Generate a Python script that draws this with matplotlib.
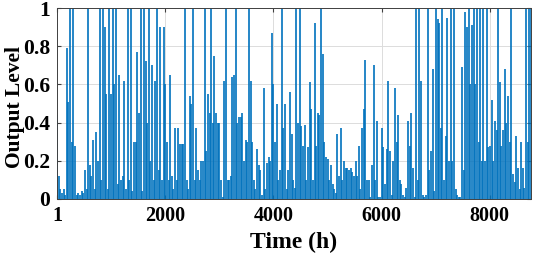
import numpy as np
import matplotlib
matplotlib.use("Agg")
import matplotlib.pyplot as plt

# output level, left to right (8 chunks of ~1100 h)
lev_a = [0.44, 0.12, 0.05, 0.03, 0.05, 0.02, 0.79, 0.51, 1.0, 0.3, 1.0, 0.28, 0.02, 0.03,
         0.02, 0.04, 0.03, 0.15, 0.05, 1.0, 0.18, 0.12, 0.31, 0.05, 0.35, 0.2, 1.0, 0.1,
         1.0, 0.9, 0.55, 0.05, 1.0, 0.55, 1.0, 0.6, 1.0, 0.08, 0.65, 0.1]
lev_b = [0.12, 0.62, 0.05, 1.0, 0.1, 1.0, 0.04, 0.3, 0.3, 0.77, 0.45, 1.0, 0.04, 1.0,
         0.72, 0.4, 1.0, 0.2, 0.7, 0.1, 0.62, 1.0, 0.15, 0.9, 0.1, 0.9, 0.6, 0.3, 0.1,
         0.65, 0.12, 0.05, 0.37, 0.1, 0.37, 0.29, 0.29]
lev_c = [0.29, 1.0, 0.1, 0.05, 0.54, 0.5, 1.0, 0.1, 0.37, 0.15, 0.1, 0.2, 0.2, 1.0,
         0.25, 0.55, 0.45, 1.0, 0.4, 0.75, 0.45, 0.4, 0.4, 0.1, 0.01, 0.62, 1.0, 0.1,
         0.1, 0.12, 0.64, 0.65, 1.0, 0.4, 0.43]
lev_d = [0.43, 0.45, 0.2, 0.31, 0.3, 1.0, 0.62, 0.3, 0.1, 0.05, 0.26, 0.18, 0.15, 0.02,
         0.58, 0.05, 0.19, 0.22, 0.2, 0.87, 0.6, 0.3, 0.5, 0.1, 0.15, 1.0, 0.37, 0.5,
         0.05, 0.15, 0.56, 0.34, 0.1, 0.06, 1.0, 0.4]
lev_e = [1.0, 0.38, 0.28, 0.39, 0.1, 0.27, 0.61, 0.47, 0.1, 0.92, 0.28, 0.45, 0.44, 1.0,
         0.76, 0.3, 0.22, 0.21, 0.1, 0.18, 0.08, 0.05, 0.03, 0.34, 0.12, 0.37, 0.1, 0.2,
         0.16, 0.16, 0.15, 0.16, 0.14, 0.12, 0.2]
lev_f = [0.12, 0.28, 0.05, 0.37, 0.47, 0.73, 0.1, 0.1, 0.01, 0.18, 0.7, 0.1, 0.41, 0.01,
         0.01, 0.37, 0.27, 0.08, 0.26, 0.62, 0.25, 0.02, 0.2, 0.58, 0.3, 0.44, 0.1, 0.08,
         0.02, 0.01, 0.06, 0.41, 0.28, 0.45]
lev_g = [0.16, 0.01, 1.0, 0.1, 1.0, 0.62, 0.02, 0.01, 0.02, 1.0, 0.15, 0.25, 0.68, 0.04,
         1.0, 0.94, 0.92, 0.37, 1.0, 0.1, 0.33, 0.95, 0.2, 1.0, 0.2, 1.0, 0.05, 0.02,
         0.01, 0.01, 0.69, 0.15, 0.98, 0.9, 1.0, 0.6]
lev_h = [0.91, 1.0, 0.6, 1.0, 0.3, 1.0, 0.2, 1.0, 0.2, 1.0, 0.27, 0.28, 0.52, 0.2,
         0.41, 0.36, 1.0, 0.61, 0.28, 0.36, 0.68, 0.4, 0.54, 0.3, 1.0, 0.13, 0.09, 0.33,
         0.16, 0.05, 0.3, 0.16, 0.06, 1.0, 0.3, 1.0, 1.0]

levels = lev_a + lev_b + lev_c + lev_d + lev_e + lev_f + lev_g + lev_h
hours = np.linspace(1, 8760, len(levels))

x_ticks = [1, 2000, 4000, 6000, 8000]
y_ticks = [0, 0.2, 0.4, 0.6, 0.8, 1]
y_labels = ["0", "0.2", "0.4", "0.6", "0.8", "1"]

plt.rcParams['font.family'] = 'Liberation Serif'
plt.rcParams['font.weight'] = 'bold'

fig = plt.figure(figsize=(5.33, 2.56), dpi=100)
ax = fig.add_axes([57/533, 1-199/256, (531-57)/533, (199-8)/256])

# each reading drawn as a spike up from zero
ax.vlines(hours, 0, levels, color='#0072BD', lw=1.2)

ax.set_xlim(1, 8760)
ax.set_ylim(0, 1)
ax.set_xticks(x_ticks)
ax.set_xticklabels([str(t) for t in x_ticks])
ax.set_yticks(y_ticks)
ax.set_yticklabels(y_labels)
ax.grid(True, color='#dcdcdc', lw=0.7)
ax.set_axisbelow(True)
ax.tick_params(direction='in', length=3, top=True, right=True, color='#404040')
ax.tick_params(axis='x', labelsize=14.5, pad=5)
ax.tick_params(axis='y', labelsize=15.5, pad=5)
for s in ax.spines.values():
    s.set_color('#404040')
    s.set_linewidth(0.7)

ax.set_xlabel('Time (h)', fontsize=17, fontweight='bold', labelpad=4)
ax.set_ylabel('Output Level', fontsize=15.5, fontweight='bold')
ax.yaxis.set_label_coords(-0.068, 0.48)

fig.savefig('out.png', dpi=100)
